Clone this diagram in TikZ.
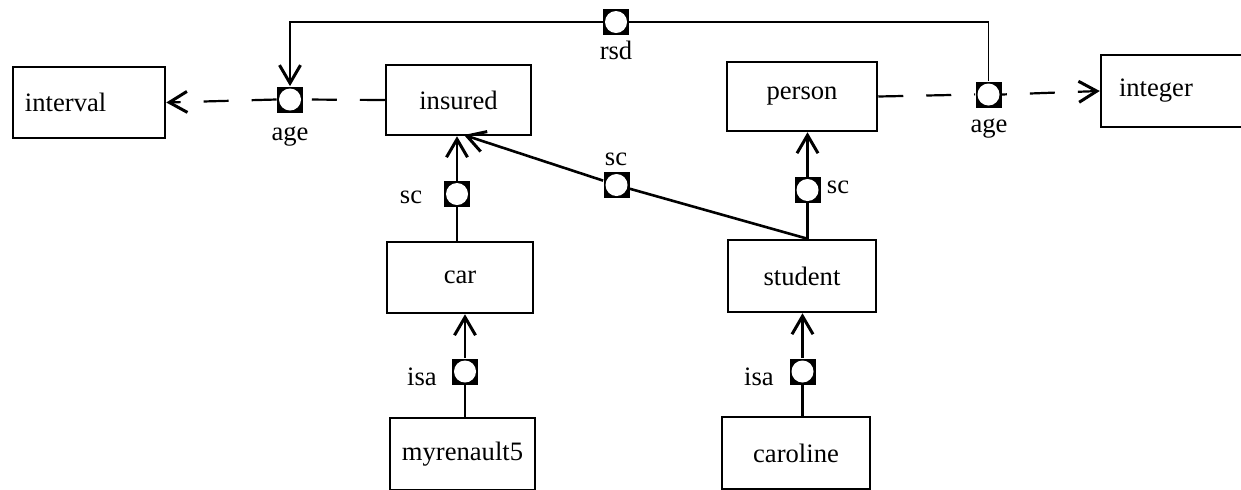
\documentclass[tikz,border=0pt]{standalone}
\usepackage{fontspec}
\setmainfont{Liberation Serif}
\usetikzlibrary{arrows.meta}
\begin{document}
\begin{tikzpicture}[x=0.5pt,y=-0.5pt,
  font=\fontsize{13.3pt}{16pt}\selectfont,
  box/.style={draw, line width=1.25pt, rectangle, inner sep=0pt},
  port/.style={rectangle, fill=black, inner sep=0pt, minimum size=13pt,
    path picture={\fill[white] (path picture bounding box.center) circle (5.5pt);}},
  link/.style={line width=1.3pt},
  tip/.style={-{Straight Barb[length=9pt,width=10.5pt,line width=1.5pt]}},
  attr/.style={line width=1.1pt, dash pattern=on 12.5pt off 11.5pt},
  lbl/.style={inner sep=0pt, anchor=base}]
\clip (0,0) rectangle (1241,489);
\fill[white] (0,0) rectangle (1241,489);

% classes and objects
\node[box, inner xsep=6pt, text width=64pt, align=left, minimum height=35.5pt] (interval) at (89,102.5) {interval};
\node[box, minimum width=72.5pt, minimum height=35pt] (insured) at (458.5,100) {insured};
\node[box, minimum width=75pt, minimum height=34.5pt] (person) at (802,96.5) {person};
\node[box, inner xsep=9pt, text width=62pt, align=left, minimum height=36pt] (integer) at (1181,91) {integer};
\node[box, minimum width=73pt, minimum height=35.5pt] (car) at (460,277.5) {car};
\node[box, minimum width=74pt, minimum height=36pt] (student) at (802,276) {student};
\node[box, minimum width=72.5pt, minimum height=36pt] (myr) at (462.5,454) {myrenault5};
\node[box, minimum width=74pt, minimum height=36pt] (caroline) at (796,453) {caroline};

% relation ports
\node[port] (ageL) at (290,99.5) {};
\node[port] (rsd) at (616,22) {};
\node[port] (ageR) at (988.5,94.5) {};
\node[port] (scCar) at (457,194) {};
\node[port] (scDiag) at (616.5,185) {};
\node[port] (scStu) at (807.5,190) {};
\node[port] (isaCar) at (465,371.5) {};
\node[port] (isaStu) at (802.5,371.5) {};

% labels
\node[lbl] at (290,140) {age};
\node[lbl] at (616,59) {rsd};
\node[lbl] at (989,132) {age};
\node[lbl] at (411,203) {sc};
\node[lbl] at (616,165) {sc};
\node[lbl] at (838,193) {sc};
\node[lbl] at (422,385) {isa};
\node[lbl] at (759,385) {isa};

% attribute links (dashed)
\draw[attr] (insured.west) -- (ageL.east);
\draw[attr, tip] (ageL.west) -- (interval.east);
\draw[attr] (person.east) -- (ageR.west);
\draw[attr, tip, dash phase=10pt] (ageR.east) -- (integer.west);

% rsd link
\draw[line width=0.9pt] (ageR.north) |- (rsd.east);
\draw[line width=0.9pt, tip] (rsd.west) -| (ageL.north);

% sc links
\coordinate (insIn) at (464,135);
\draw[link] (car.north -| scCar) -- (scCar.south);
\draw[link, tip] (scCar.north) -- (scCar |- insured.south);
\draw[link] (student.north -| scStu) -- (scStu.south);
\draw[link, tip] (scStu.north) -- (scStu |- person.south);
\draw[link] (student.north -| scStu) -- (scDiag);
\draw[link, tip] (scDiag) -- (insIn);

% isa links
\draw[link] (myr.north -| isaCar) -- (isaCar.south);
\draw[link, tip] (isaCar.north) -- (isaCar |- car.south);
\draw[link] (caroline.north -| isaStu) -- (isaStu.south);
\draw[link, tip] (isaStu.north) -- (isaStu |- student.south);

% redraw the ports above the lines that cross them
\node[port] at (scDiag) {};
\node[port] at (rsd) {};
\end{tikzpicture}
\end{document}
